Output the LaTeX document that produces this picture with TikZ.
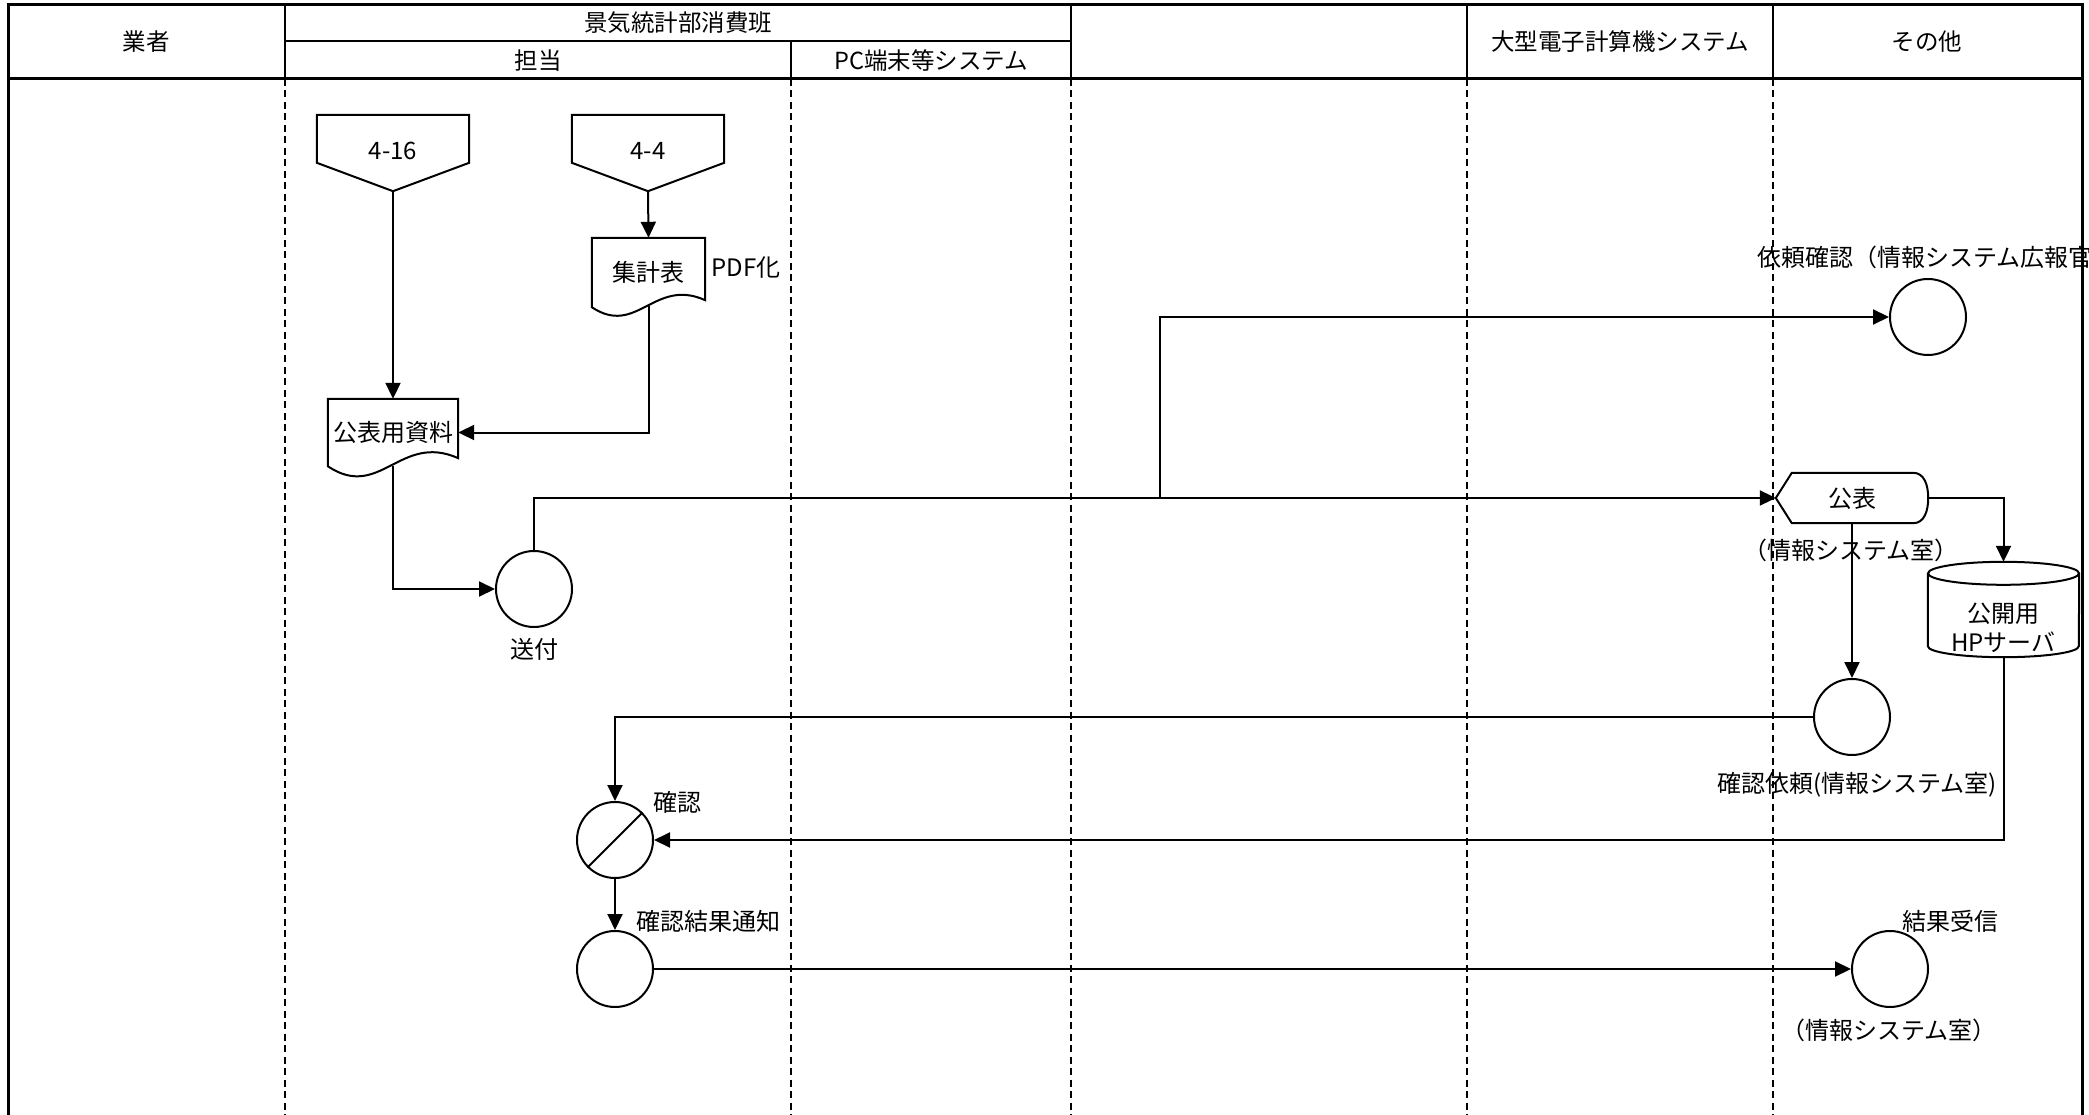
\documentclass[tikz,border=0pt]{standalone}
\usepackage{fontspec}
\setmainfont{Noto Sans CJK JP}
\usetikzlibrary{arrows.meta,calc}
\begin{document}
\begin{tikzpicture}[x=1pt,y=-1pt,
  txt/.style={font=\fontsize{24}{29}\selectfont, inner sep=0pt, align=center},
  frameline/.style={line width=3pt},
  headline/.style={line width=2.2pt},
  lane/.style={line width=2pt, dash pattern=on 7pt off 4.5pt},
  outline/.style={draw=black, line width=2pt},
  flow/.style={line width=2pt, -{Triangle[length=16pt,width=15pt]}},
  link/.style={line width=2pt},
  proc/.style={circle, draw=black, fill=white, line width=2pt, minimum size=76pt, inner sep=0pt},
  area/.style={rectangle, inner sep=0pt, minimum width=#1},
]
\useasboundingbox (0,0) rectangle (2089,1115);
\fill[white] (0,0) rectangle (2089,1115);

% lanes
\foreach \x in {285,791,1071,1467,1773} \draw[lane] (\x,79) -- (\x,1115);
% frame
\draw[frameline] (8,1115) -- (8,5) -- (2082,5) -- (2082,1115);
\draw[frameline] (8,79) -- (2082,79);
\draw[headline] (285,41) -- (1071,41);
\foreach \x in {285,1071,1467,1773} \draw[headline] (\x,5) -- (\x,79);
\draw[headline] (791,41) -- (791,79);

% header texts
\node[txt, font=\fontsize{23.5}{28}\selectfont] (hGyosha) at (146,42) {業者};
\node[txt, font=\fontsize{23.5}{28}\selectfont] (hKeiki) at (678,23) {景気統計部消費班};
\node[txt, font=\fontsize{23.5}{28}\selectfont] (hTanto) at (538,61) {担当};
\node[txt, font=\fontsize{23.5}{28}\selectfont] (hPC) at (931,61) {PC端末等システム};
\node[txt, font=\fontsize{23.5}{28}\selectfont] (hOgata) at (1620,42) {大型電子計算機システム};
\node[txt, font=\fontsize{23.5}{28}\selectfont] (hSonota) at (1927,42) {その他};

% off-page connectors
\node[txt, area=152pt, minimum height=76pt] (p416) at (393,153) {};
\draw[outline] (p416.north west) -- (p416.north east) -- ($(p416.north east)+(0,48)$) -- (p416.south) -- ($(p416.north west)+(0,48)$) -- cycle;
\node[txt] (p416t) at (393,151) {4-16};

\node[txt, area=152pt, minimum height=76pt] (p44) at (648,153) {};
\draw[outline] (p44.north west) -- (p44.north east) -- ($(p44.north east)+(0,48)$) -- (p44.south) -- ($(p44.north west)+(0,48)$) -- cycle;
\node[txt] (p44t) at (648,151) {4-4};

% documents
\node[txt, area=113pt, minimum height=69pt] (shukei) at (648.5,272.5) {集計表};
\draw[outline] (shukei.north west) -- (shukei.south west)
  .. controls +(45,30) and +(-51,-23) .. ($(shukei.south east)+(0,-7)$) -- (shukei.north east) -- cycle;
\node[txt] (pdfL) at (746,268) {PDF化};

\node[txt, area=130pt, minimum height=67pt] (shiryo) at (393,432.5) {公表用資料};
\draw[outline] (shiryo.north west) -- (shiryo.south west)
  .. controls +(52,35) and +(-58,-26) .. ($(shiryo.south east)+(0,-8)$) -- (shiryo.north east) -- cycle;

% circles
\node[proc] (sofu) at (534,589) {};
\node[txt] (sofuL) at (534,649) {送付};

\node[proc] (irai) at (1928,317) {};
\node[txt, anchor=west] (iraiL) at (1757,257) {依頼確認（情報システム広報官};

% 公表 display shape
\node[txt, area=152pt, minimum height=50pt] (kohyo) at (1852,498) {公表};
\draw[outline] (kohyo.west) -- ($(kohyo.north west)+(16,0)$) -- ($(kohyo.north east)+(-15,0)$)
  .. controls +(11,0) and +(0,-13) .. (kohyo.east)
  .. controls +(0,13) and +(11,0) .. ($(kohyo.south east)+(-15,0)$)
  -- ($(kohyo.south west)+(16,0)$) -- cycle;
\node[txt] (kohyoL) at (1851,550) {（情報システム室）};

% cylinder
\node[area=151pt, minimum height=95pt] (hp) at (2003.5,609.5) {};
\draw[outline] ($(hp.north west)+(0,11.5)$) -- ($(hp.south west)+(0,-11)$)
  arc[start angle=180, end angle=360, x radius=75.5pt, y radius=11pt]
  -- ($(hp.north east)+(0,11.5)$);
\draw[outline] ($(hp.north)+(0,11.5)$) ellipse [x radius=75.5pt, y radius=11.5pt];
\node[txt] (hpT) at (2003.5,627.5) {公開用\\HPサーバ};

\node[proc] (irai2) at (1852,717) {};
\node[txt] (irai2L) at (1857,785) {確認依頼(情報システム室)};

\node[proc] (kakunin) at (615,840) {};
\draw[link] (kakunin.225) -- (kakunin.45);
\node[txt] (kakuninL) at (677,802) {確認};

\node[proc] (tsuchi) at (615,969) {};
\node[txt] (tsuchiL) at (708,921) {確認結果通知};

\node[proc] (jushin) at (1890,969) {};
\node[txt] (jushinL) at (1950,921) {結果受信};
\node[txt] (jushinL2) at (1889,1030) {（情報システム室）};

% connectors
\draw[flow] (p416.south) -- (shiryo.north);
\draw[flow] (p44.south) -- (shukei.north);
\draw[flow] ($(shukei.south)+(0,-1)$) |- (shiryo.east);
\draw[flow] (shiryo.south) |- (sofu.west);
\draw[flow] (sofu.north) |- (kohyo.west);
\coordinate (br) at (1160,498);
\draw[flow] (br) |- (irai.west);
\draw[flow] (kohyo.east) -| (hp.north);
\draw[flow] (kohyo.south) -- (irai2.north);
\draw[flow] (irai2.west) -| (kakunin.north);
\draw[flow] (hp.south) |- (kakunin.east);
\draw[flow] (kakunin.south) -- (tsuchi.north);
\draw[flow] (tsuchi.east) -- (jushin.west);
\end{tikzpicture}
\end{document}
